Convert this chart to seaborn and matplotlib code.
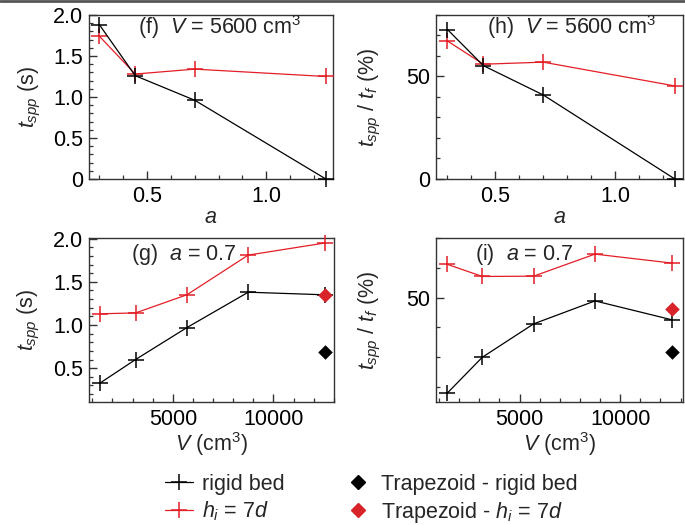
import matplotlib
matplotlib.use("Agg")
import matplotlib.pyplot as plt
import seaborn as sns
import pandas as pd
from matplotlib.lines import Line2D
from matplotlib.ticker import MultipleLocator

# ---------------- data ----------------
a_vals = [0.3, 0.45, 0.7, 1.25]
tspp_a_rigid = [1.88, 1.26, 0.96, 0.0]
tspp_a_hi7d = [1.74, 1.28, 1.34, 1.25]
pct_a_rigid = [72.9, 55.3, 41.0, 0.0]
pct_a_hi7d = [67.3, 56.0, 57.0, 45.4]

V_vals = [1400, 3150, 5700, 8750, 12550]
tspp_V_rigid = [0.33, 0.60, 0.97, 1.38, 1.35]
tspp_V_hi7d = [1.13, 1.14, 1.35, 1.81, 1.95]
pct_V_rigid = [17.9, 30.0, 41.2, 48.9, 42.6]
pct_V_hi7d = [61.2, 57.1, 57.2, 64.6, 61.6]

V_trap = [12550]
tspp_trap_rigid = [0.69]
tspp_trap_hi7d = [1.35]
pct_trap_rigid = [31.9]
pct_trap_hi7d = [46.3]

series_labels = ["rigid bed", r"$h_i$ = 7$d$",
                 "Trapezoid - rigid bed", r"Trapezoid - $h_i$ = 7$d$"]

BLACK = "#000000"
RED = "#e31e26"
RED_D = "#d9232a"

# ---------------- style ----------------
sns.set_theme(style="white")
plt.rcParams["font.family"] = ["Liberation Sans", "DejaVu Sans"]
plt.rcParams["mathtext.fontset"] = "custom"
plt.rcParams["mathtext.rm"] = "Liberation Sans"
plt.rcParams["mathtext.it"] = "Liberation Sans:italic"
plt.rcParams["mathtext.bf"] = "Liberation Sans:bold"

FS = 15.5
W, H = 685, 525
fig = plt.figure(figsize=(W / 100, H / 100), dpi=100)


def ax_at(x0, x1, y0, y1):
    return fig.add_axes([x0 / W, 1 - y1 / H, (x1 - x0) / W, (y1 - y0) / H])


ax_f = ax_at(89, 333, 15, 179)
ax_h = ax_at(436, 683, 15, 179)
ax_g = ax_at(89, 334, 238, 402)
ax_i = ax_at(436, 683, 238, 402)

line_kw = dict(marker="+", markersize=11, markeredgewidth=1.1, linewidth=0.9,
               clip_on=False, zorder=3)


def draw_lines(ax, x, y_rigid, y_hi):
    df = pd.DataFrame({"x": list(x) * 2, "y": list(y_rigid) + list(y_hi),
                       "s": [series_labels[0]] * len(x) + [series_labels[1]] * len(x)})
    sns.lineplot(data=df, x="x", y="y", hue="s",
                 palette={series_labels[0]: BLACK, series_labels[1]: RED},
                 hue_order=[series_labels[1], series_labels[0]],
                 ax=ax, legend=False, sort=False, **line_kw)
    for ln in ax.get_lines():
        ln.set_markeredgecolor(ln.get_color())


def draw_trap(ax, x, y_rigid, y_hi):
    sns.scatterplot(x=x, y=y_rigid, marker="D", s=55, color=BLACK,
                    edgecolor=BLACK, linewidth=0, ax=ax, zorder=4, clip_on=False)
    sns.scatterplot(x=x, y=y_hi, marker="D", s=55, color=RED_D,
                    edgecolor=RED_D, linewidth=0, ax=ax, zorder=5, clip_on=False)


draw_lines(ax_f, a_vals, tspp_a_rigid, tspp_a_hi7d)
draw_lines(ax_h, a_vals, pct_a_rigid, pct_a_hi7d)
draw_lines(ax_g, V_vals, tspp_V_rigid, tspp_V_hi7d)
draw_lines(ax_i, V_vals, pct_V_rigid, pct_V_hi7d)
draw_trap(ax_g, V_trap, tspp_trap_rigid, tspp_trap_hi7d)
draw_trap(ax_i, V_trap, pct_trap_rigid, pct_trap_hi7d)

# limits
ax_f.set_xlim(0.256, 1.28)
ax_h.set_xlim(0.252, 1.284)
ax_g.set_xlim(836, 13010)
ax_i.set_xlim(851, 13120)
ax_f.set_ylim(0, 2.0)
ax_h.set_ylim(0, 80)
ax_g.set_ylim(0.108, 2.008)
ax_i.set_ylim(15, 70)

# ticks
for ax in (ax_f, ax_h):
    ax.xaxis.set_major_locator(MultipleLocator(0.5))
    ax.xaxis.set_minor_locator(MultipleLocator(0.1))
for ax in (ax_g, ax_i):
    ax.xaxis.set_major_locator(MultipleLocator(5000))
    ax.xaxis.set_minor_locator(MultipleLocator(1000))
for ax in (ax_f, ax_g):
    ax.yaxis.set_major_locator(MultipleLocator(0.5))
    ax.yaxis.set_minor_locator(MultipleLocator(0.1))
    ax.yaxis.set_major_formatter(plt.FuncFormatter(lambda v, p: "0" if abs(v) < 1e-9 else f"{v:.1f}"))
for ax in (ax_h, ax_i):
    ax.yaxis.set_major_locator(MultipleLocator(50))
    ax.yaxis.set_minor_locator(MultipleLocator(10))
    ax.yaxis.set_major_formatter(plt.FuncFormatter(lambda v, p: f"{v:.0f}"))
ax_f.xaxis.set_major_formatter(plt.FuncFormatter(lambda v, p: f"{v:.1f}"))
ax_h.xaxis.set_major_formatter(plt.FuncFormatter(lambda v, p: f"{v:.1f}"))
ax_g.xaxis.set_major_formatter(plt.FuncFormatter(lambda v, p: f"{v:.0f}"))
ax_i.xaxis.set_major_formatter(plt.FuncFormatter(lambda v, p: f"{v:.0f}"))

SP = "#333333"
for ax in (ax_f, ax_h, ax_g, ax_i):
    for s in ax.spines.values():
        s.set_color(SP)
        s.set_linewidth(1.0)
        s.set_visible(True)
    ax.tick_params(which="both", direction="in", left=True, bottom=True,
                   top=False, right=False, color=SP, labelsize=FS,
                   labelcolor="black")
    ax.tick_params(axis="x", which="major", length=6, width=1.0, pad=5)
    ax.tick_params(axis="y", which="major", length=6, width=1.0, pad=4)
    ax.tick_params(which="minor", length=3.2, width=0.9)
    ax.set_facecolor("white")
    ax.grid(False)

# labels
ax_f.set_ylabel(r"$t_{spp}$ (s)", fontsize=FS)
ax_g.set_ylabel(r"$t_{spp}$ (s)", fontsize=FS)
ax_h.set_ylabel(r"$t_{spp}$ / $t_f$ (%)", fontsize=FS)
ax_i.set_ylabel(r"$t_{spp}$ / $t_f$ (%)", fontsize=FS)
ax_f.set_xlabel(r"$a$", fontsize=FS, labelpad=0)
ax_h.set_xlabel(r"$a$", fontsize=FS, labelpad=0)
ax_g.set_xlabel(r"$V$ (cm$^3$)", fontsize=FS, labelpad=0)
ax_i.set_xlabel(r"$V$ (cm$^3$)", fontsize=FS, labelpad=0)
for ax in (ax_f, ax_g):
    ax.yaxis.set_label_coords(-0.19, 0.5)
for ax in (ax_h, ax_i):
    ax.yaxis.set_label_coords(-0.215, 0.5)

# panel annotations
ax_f.text(0.20, 0.884, r"(f)  $V$ = 5600 cm$^3$", transform=ax_f.transAxes,
          fontsize=FS, va="baseline", ha="left")
ax_h.text(0.206, 0.884, r"(h)  $V$ = 5600 cm$^3$", transform=ax_h.transAxes,
          fontsize=FS, va="baseline", ha="left")
ax_g.text(0.171, 0.866, r"(g)  $a$ = 0.7", transform=ax_g.transAxes,
          fontsize=FS, va="baseline", ha="left")
ax_i.text(0.158, 0.866, r"(i)  $a$ = 0.7", transform=ax_i.transAxes,
          fontsize=FS, va="baseline", ha="left")

# legend
handles = [
    Line2D([], [], color=BLACK, marker="+", markersize=11, markeredgewidth=1.1, linewidth=0.9),
    Line2D([], [], color=RED, marker="+", markersize=11, markeredgewidth=1.1, linewidth=0.9),
    Line2D([], [], color=BLACK, marker="D", markersize=7, linestyle="none"),
    Line2D([], [], color=RED_D, marker="D", markersize=7, linestyle="none"),
]
fig.legend(handles, series_labels, ncol=2, loc="upper left",
           bbox_to_anchor=(165 / W, 1 - 474 / H), frameon=False, fontsize=FS,
           handlelength=1.3, handletextpad=0.42, columnspacing=2.75,
           labelspacing=0.22, borderpad=0, borderaxespad=0)

# top border line
fig.add_artist(Line2D([0, 1], [1 - 1 / H, 1 - 1 / H], transform=fig.transFigure,
                      color="#555555", linewidth=2))

fig.savefig("out.png", dpi=100, facecolor="white")
